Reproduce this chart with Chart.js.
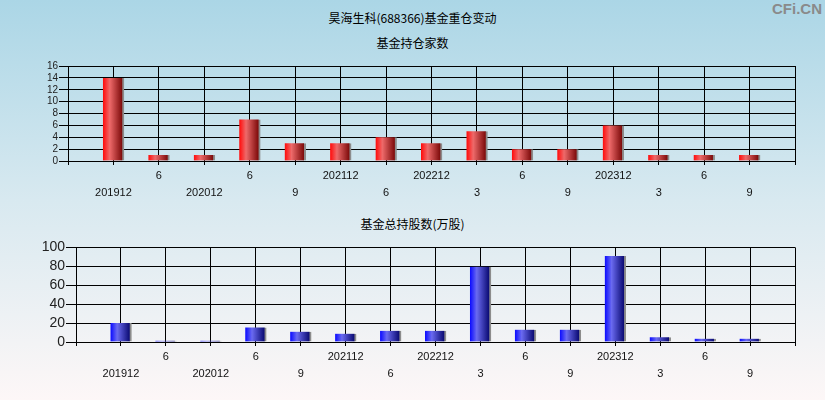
<!DOCTYPE html>
<html>
<head>
<meta charset="utf-8">
<script src="https://cdn.jsdelivr.net/npm/chart.js@4.4.1/dist/chart.umd.min.js"></script>
<style>
  html, body { margin: 0; padding: 0; }
  body {
    width: 825px; height: 400px; position: relative; overflow: hidden;
    background: linear-gradient(to bottom, #abd6e6 0%, #d8e9f0 50%, #fdf7f7 100%);
    font-family: "Noto Sans CJK SC", "Liberation Sans", sans-serif;
  }
  .title { position: absolute; left: 0; width: 825px; text-align: center; font-size: 12px; color: #000; }
  .mark { position: absolute; right: 3px; top: 0px; font: bold 15px "Liberation Sans", Arial, sans-serif; color: #8a8a8a; }
  canvas { position: absolute; left: 0; }
</style>
</head>
<body>
<div class="title" style="top:9px">昊海生科(688366)基金重仓变动</div>
<div class="title" style="top:34px">基金持仓家数</div>
<div class="title" style="top:215px">基金总持股数(万股)</div>
<div class="mark">CFi.CN</div>
<div style="position:absolute;left:0;top:59px;width:825px;height:142px"><canvas id="countChart"></canvas></div>
<div style="position:absolute;left:0;top:238px;width:825px;height:144px"><canvas id="sharesChart"></canvas></div>

<script>
// data (report periods)
const periods = ['201912', '202006', '202012', '202106', '202109', '202112', '202206', '202212',
                 '202303', '202306', '202309', '202312', '202403', '202406', '202409'];
const tickLabels = ['201912', '6', '202012', '6', '9', '202112', '6', '202212',
                    '3', '6', '9', '202312', '3', '6', '9'];
const fundCount = [14, 1, 1, 7, 3, 3, 4, 3, 5, 2, 2, 6, 1, 1, 1];
const fundShares = [20, 1.4, 1.4, 15.4, 10.9, 8.8, 11.9, 11.9, 79.6, 13, 13, 90.9, 4.9, 3.5, 3.5];
const countTicks = { max: 16, step: 2 };
const sharesTicks = { max: 100, step: 20 };

// one empty slot each side, like the original
const slots = [''].concat(periods).concat(['']);
const pad = arr => [null].concat(arr).concat([null]);

function barGradient(stops) {
    return function (c) {
        const chart = c.chart;
        const sx = chart.scales.x;
        if (!sx || c.dataIndex === undefined) return stops[1];
        const x = sx.getPixelForValue(c.dataIndex);
        if (!isFinite(x)) return stops[1];
        const g = chart.ctx.createLinearGradient(x - 10, 0, x + 9, 0);
        g.addColorStop(0, stops[0]);
        g.addColorStop(0.33, stops[1]);
        g.addColorStop(1, stops[2]);
        return g;
    };
}

function makeChart(id, values, colors, yt, yFont, yWidth, yTick) {
    const ctx = document.getElementById(id).getContext('2d');
    const chart = new Chart(ctx, {
        type: 'bar',
        data: {
            labels: slots,
            datasets: [{
                data: pad(values),
                backgroundColor: barGradient(colors),
                borderColor: '#8c8c8c',
                borderWidth: { top: 0, left: 0, bottom: 0, right: 2 },
                borderSkipped: false,
                barThickness: 21
            }]
        },
        options: {
            responsive: true,
            maintainAspectRatio: false,
            animation: false,
            layout: { padding: { top: 0, right: 30, left: 0, bottom: 0 } },
            plugins: { legend: { display: false }, tooltip: { enabled: false } },
            scales: {
                x: {
                    offset: false,
                    grid: { offset: false, color: '#000', lineWidth: 1, drawTicks: true, tickLength: 4 },
                    border: { color: '#000', width: 1 },
                    ticks: {
                        autoSkip: false, maxRotation: 0, minRotation: 0, padding: 3,
                        color: '#111',
                        font: { family: 'Liberation Sans', size: 11, lineHeight: 1.5 },
                        callback: function (v, i) {
                            const k = i - 1;
                            if (k < 0 || k >= tickLabels.length) return '';
                            return k % 2 === 0 ? ['', tickLabels[k]] : [tickLabels[k], ''];
                        }
                    },
                    afterFit: s => { s.height = 40; }
                },
                y: {
                    min: 0, max: yt.max,
                    grid: { color: '#000', lineWidth: 1, drawTicks: true, tickLength: yTick },
                    border: { color: '#000', width: 1 },
                    ticks: {
                        stepSize: yt.step, autoSkip: false, padding: 1, color: '#222',
                        font: { family: 'Liberation Sans', size: yFont }
                    },
                    afterFit: s => { s.width = yWidth; }
                }
            }
        }
    });
    chart.update();
    return chart;
}

makeChart('countChart', fundCount, ['#ff1010', '#ee6a6a', '#7a0808'], countTicks, 10, 68, 9);
makeChart('sharesChart', fundShares, ['#1010ff', '#6a6af0', '#080870'], sharesTicks, 14, 76, 10);
</script>
</body>
</html>
